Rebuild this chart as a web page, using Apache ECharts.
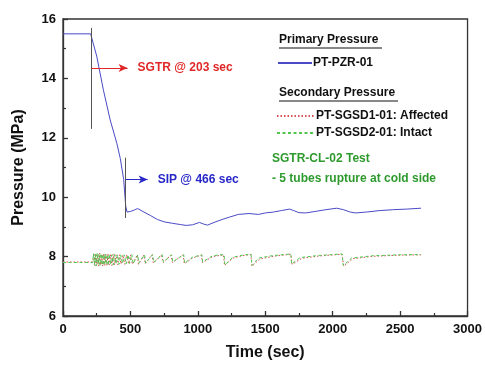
<!DOCTYPE html>
<html><head><meta charset="utf-8">
<script src="https://cdn.jsdelivr.net/npm/echarts@6/dist/echarts.min.js"></script>
<style>html,body{margin:0;padding:0;background:#fff}#c{width:485px;height:367px}</style>
</head><body><div id="c"></div>
<script>
// Primary pressure PT-PZR-01 [time, MPa]
var pzrTime = [0,205,250,300,350,400,425,450,465,475,500,530,553,600,650,700,750,812,870,913,960,1012,1040,1072,1120,1180,1235,1300,1380,1450,1500,1560,1620,1680,1710,1750,1800,1870,1950,2030,2080,2130,2170,2250,2350,2450,2550,2655];
var pzrVal  = [15.5,15.5,14.75,13.6,12.6,11.8,11.3,10.6,9.7,9.5,9.52,9.57,9.62,9.5,9.38,9.25,9.17,9.12,9.08,9.05,9.07,9.15,9.1,9.06,9.15,9.25,9.33,9.42,9.45,9.42,9.47,9.5,9.55,9.6,9.55,9.48,9.47,9.52,9.58,9.63,9.58,9.5,9.47,9.5,9.55,9.58,9.6,9.63];
// Secondary pressure PT-SGSD1-01 (Affected)
var sg1Time = [0,220,224,230,237,244,251,258,265,272,279,287,294,302,310,318,326,334,343,352,362,372,382,394,406,418,430,444,458,472,486,500,515,550,560,600,610,660,670,730,742,800,812,890,900,960,1025,1034,1110,1190,1198,1260,1330,1392,1402,1460,1560,1688,1700,1770,1900,2068,2082,2150,2300,2500,2655];
var sg1Val  = [7.82,7.82,7.95,8.1,7.7,8.1,7.72,8.08,7.68,8.12,7.72,8.08,7.68,8.1,7.7,8.08,7.7,8.1,7.72,8.06,7.7,8.08,7.72,8.06,7.72,8.06,7.75,8.05,7.74,8.06,7.76,8.05,7.74,8.05,7.74,8.05,7.76,8.06,7.78,8.06,7.8,8.05,7.8,8.06,7.76,7.95,8.05,7.8,8.0,8.06,7.7,7.95,8.03,8.07,7.68,7.92,8.01,8.08,7.74,7.94,8.02,8.08,7.68,7.93,8.01,8.05,8.06];
// Secondary pressure PT-SGSD2-01 (Intact)
var sg2Time = [0,220,226,233,240,246,253,260,267,274,281,288,296,303,311,319,327,335,344,353,362,372,382,393,404,416,428,441,455,468,482,494,510,520,555,562,605,613,665,673,735,745,805,815,895,902,960,1030,1036,1110,1195,1200,1260,1330,1395,1400,1450,1550,1690,1695,1760,1900,2070,2078,2140,2300,2500,2655];
var sg2Val  = [7.8,7.8,8.1,7.72,8.08,7.68,8.12,7.74,8.08,7.7,8.1,7.72,8.08,7.7,8.1,7.74,8.07,7.7,8.08,7.74,8.06,7.72,8.07,7.75,8.06,7.74,8.06,7.76,8.06,7.75,8.06,7.77,8.07,7.76,8.06,7.78,8.06,7.78,8.07,7.8,8.07,7.82,8.06,7.82,8.07,7.78,7.98,8.06,7.82,8.03,8.07,7.72,7.98,8.05,8.08,7.7,7.95,8.03,8.09,7.75,7.97,8.04,8.09,7.7,7.95,8.03,8.06,8.07];
// Axis settings
var xTicks = [0,500,1000,1500,2000,2500,3000];
var yTicks = [6,8,10,12,14,16];
// Annotations: event times and label texts
var sgtrTime = 210, sipTime = 464;
var sgtrLine = [15.7, 12.3], sipLine = [11.33, 9.3];
var sgtrArrow = {y: 14.35, toTime: 479, text: 'SGTR @ 203 sec'};
var sipArrow = {y: 10.6, toTime: 628, text: 'SIP @ 466 sec'};

function pairs(t, v){ return t.map(function(x,i){ return [x, v[i]]; }); }

var FONT = '"Liberation Sans", Arial, sans-serif';
var chart = echarts.init(document.getElementById('c'), null, {renderer:'canvas'});
var legendText = {fontFamily: FONT, fontWeight: 'bold', fontSize: 12, color: '#111', padding: [0,0,0,-4]};
chart.setOption({
  animation: false,
  backgroundColor: '#fff',
  grid: {left: 63, right: 17, top: 19, bottom: 51, show: true, borderColor: '#333', borderWidth: 1.3, backgroundColor: 'transparent'},
  xAxis: {
    type: 'value', min: xTicks[0], max: xTicks[xTicks.length-1], interval: 500,
    name: 'Time (sec)', nameLocation: 'middle', nameGap: 29,
    nameTextStyle: {fontFamily: FONT, fontWeight: 'bold', fontSize: 16, color: '#111'},
    axisLine: {lineStyle: {color: '#333', width: 1.3}},
    axisTick: {inside: true, length: 5, lineStyle: {color: '#333', width: 1.3}},
    minorTick: {show: true, splitNumber: 2, length: 3, lineStyle: {color: '#333', width: 1.2}},
    splitLine: {show: false},
    axisLabel: {fontFamily: FONT, fontWeight: 'bold', fontSize: 13, color: '#111', margin: 7, formatter: function(v){ return String(v); }}
  },
  yAxis: {
    type: 'value', min: yTicks[0], max: yTicks[yTicks.length-1], interval: 2,
    name: 'Pressure (MPa)', nameLocation: 'middle', nameGap: 36,
    nameTextStyle: {fontFamily: FONT, fontWeight: 'bold', fontSize: 16, color: '#111'},
    axisLine: {lineStyle: {color: '#333', width: 1.3}},
    axisTick: {inside: true, length: 5, lineStyle: {color: '#333', width: 1.3}},
    minorTick: {show: true, splitNumber: 2, length: 3, lineStyle: {color: '#333', width: 1.2}},
    splitLine: {show: false},
    axisLabel: {fontFamily: FONT, fontWeight: 'bold', fontSize: 13, color: '#111', margin: 7}
  },
  legend: [
    {left: 272, top: 52, itemWidth: 34, itemHeight: 12, itemGap: 4, data: ['PT-PZR-01'],
     itemStyle: {opacity: 0}, textStyle: legendText},
    {left: 271, top: 105, orient: 'vertical', itemWidth: 38, itemHeight: 12, itemGap: 5, data: ['PT-SGSD1-01: Affected', 'PT-SGSD2-01: Intact'],
     itemStyle: {opacity: 0}, textStyle: legendText}
  ],
  graphic: [
    {type: 'text', left: 279, top: 34, style: {text: 'Primary Pressure', font: 'bold 12px ' + FONT, fill: '#111'}},
    {type: 'line', shape: {x1: 279, y1: 48, x2: 382, y2: 48}, style: {stroke: '#111', lineWidth: 1}},
    {type: 'text', left: 279, top: 87, style: {text: 'Secondary Pressure', font: 'bold 12px ' + FONT, fill: '#111'}},
    {type: 'line', shape: {x1: 279, y1: 101, x2: 398, y2: 101}, style: {stroke: '#111', lineWidth: 1}},
    {type: 'text', left: 272, top: 153, style: {text: 'SGTR-CL-02 Test', font: 'bold 12px ' + FONT, fill: '#2e9a2e'}},
    {type: 'text', left: 272, top: 173, style: {text: '- 5 tubes rupture at cold side', font: 'bold 12px ' + FONT, fill: '#2e9a2e'}}
  ],
  series: [
    {name: 'PT-SGSD1-01: Affected', type: 'line', data: pairs(sg1Time, sg1Val), showSymbol: false, symbol: 'none',
     lineStyle: {color: '#d85050', width: 1, type: [1.5, 2]}, itemStyle: {color: '#d85050'}, z: 2},
    {name: 'PT-SGSD2-01: Intact', type: 'line', data: pairs(sg2Time, sg2Val), showSymbol: false, symbol: 'none',
     lineStyle: {color: '#50c850', width: 1, type: [3, 2.5]}, itemStyle: {color: '#50c850'}, z: 3},
    {name: 'PT-PZR-01', type: 'line', data: pairs(pzrTime, pzrVal), showSymbol: false, symbol: 'none',
     lineStyle: {color: '#4a4ac8', width: 1}, itemStyle: {color: '#4a4ac8'}, z: 4,
     markLine: {
       silent: true, animation: false,
       data: [
         [{coord: [sgtrTime, sgtrLine[0]], symbol: 'none', lineStyle: {color: '#555', width: 1, type: 'solid'}, label: {show: false}},
          {coord: [sgtrTime, sgtrLine[1]], symbol: 'none'}],
         [{coord: [sgtrTime, sgtrArrow.y], symbol: 'none', lineStyle: {color: '#e02828', width: 1, type: 'solid'},
           label: {show: true, position: 'end', formatter: sgtrArrow.text, color: '#e02828', fontFamily: FONT, fontWeight: 'bold', fontSize: 12, distance: 10}},
          {coord: [sgtrArrow.toTime, sgtrArrow.y], symbol: 'arrow', symbolSize: [6, 9]}],
         [{coord: [sipTime, sipLine[0]], symbol: 'none', lineStyle: {color: '#555', width: 1, type: 'solid'}, label: {show: false}},
          {coord: [sipTime, sipLine[1]], symbol: 'none'}],
         [{coord: [sipTime, sipArrow.y], symbol: 'none', lineStyle: {color: '#2828c8', width: 1, type: 'solid'},
           label: {show: true, position: 'end', formatter: sipArrow.text, color: '#2828c8', fontFamily: FONT, fontWeight: 'bold', fontSize: 12, distance: 10}},
          {coord: [sipArrow.toTime, sipArrow.y], symbol: 'arrow', symbolSize: [6, 9]}]
       ]
     }}
  ]
});
</script></body></html>
